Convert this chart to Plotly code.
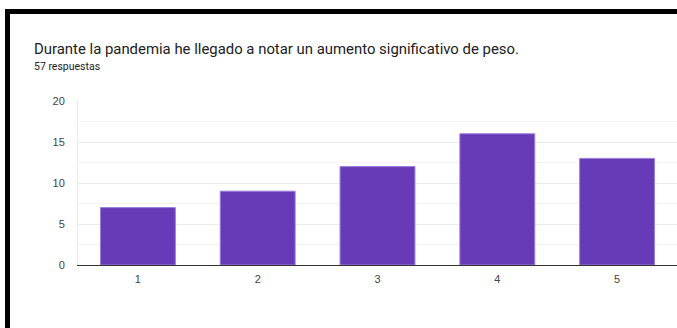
import plotly.graph_objects as go

# Survey answers on a 1-5 scale and how many people chose each
categories = ["1", "2", "3", "4", "5"]
counts = [7, 9, 12, 16, 13]

title_text = "Durante la pandemia he llegado a notar un aumento significativo de peso."
subtitle_text = "57 respuestas"
y_ticks = [0, 5, 10, 15, 20]

W, H = 677, 328
L, R, T, B = 78, 0, 101, 63
plot_w = W - L - R
plot_h = H - T - B


def px_x(x):
    return (x - L) / plot_w


def px_y(y):
    return (H - B - y) / plot_h


fig = go.Figure(
    go.Bar(
        x=categories,
        y=counts,
        width=0.625,
        marker=dict(color="#673ab7", line=dict(color="#9b7ddb", width=1)),
        hoverinfo="x+y",
    )
)

fig.update_layout(
    width=W,
    height=H,
    margin=dict(l=L, r=R, t=T, b=B),
    paper_bgcolor="white",
    plot_bgcolor="white",
    showlegend=False,
    font=dict(family="Arial, Liberation Sans, sans-serif", size=11, color="#444444"),
    xaxis=dict(
        type="category",
        range=[-0.5, 4.5],
        showgrid=False,
        showline=True,
        linecolor="#333333",
        linewidth=1,
        ticks="",
        ticklabelstandoff=4,
        tickfont=dict(size=11, color="#444444"),
        fixedrange=True,
    ),
    yaxis=dict(
        range=[0, 20],
        tickvals=y_ticks,
        showgrid=True,
        gridcolor="#ebebeb",
        gridwidth=1,
        minor=dict(dtick=2.5, showgrid=True, gridcolor="#f4f4f4", gridwidth=1),
        zeroline=False,
        showline=True,
        linecolor="#ebebeb",
        ticks="",
        ticklabelstandoff=10,
        tickfont=dict(size=11, color="#444444"),
        fixedrange=True,
    ),
    annotations=[
        dict(
            text=title_text,
            xref="paper", yref="paper",
            x=px_x(32), y=px_y(38),
            xanchor="left", yanchor="top",
            showarrow=False,
            font=dict(family="Roboto, sans-serif", size=14.9, color="#202124"),
        ),
        dict(
            text=subtitle_text,
            xref="paper", yref="paper",
            x=px_x(32), y=px_y(58),
            xanchor="left", yanchor="top",
            showarrow=False,
            font=dict(family="Roboto, sans-serif", size=10.5, color="#202124"),
        ),
    ],
    shapes=[
        # dark frame along the top and left edges
        dict(type="rect", xref="paper", yref="paper",
             x0=px_x(5), x1=px_x(W + 2), y0=px_y(14), y1=px_y(9),
             fillcolor="black", line=dict(width=0), layer="above"),
        dict(type="rect", xref="paper", yref="paper",
             x0=px_x(5), x1=px_x(10), y0=px_y(H + 2), y1=px_y(9),
             fillcolor="black", line=dict(width=0), layer="above"),
    ],
)

fig.write_html("out.html", config={"displayModeBar": False})
